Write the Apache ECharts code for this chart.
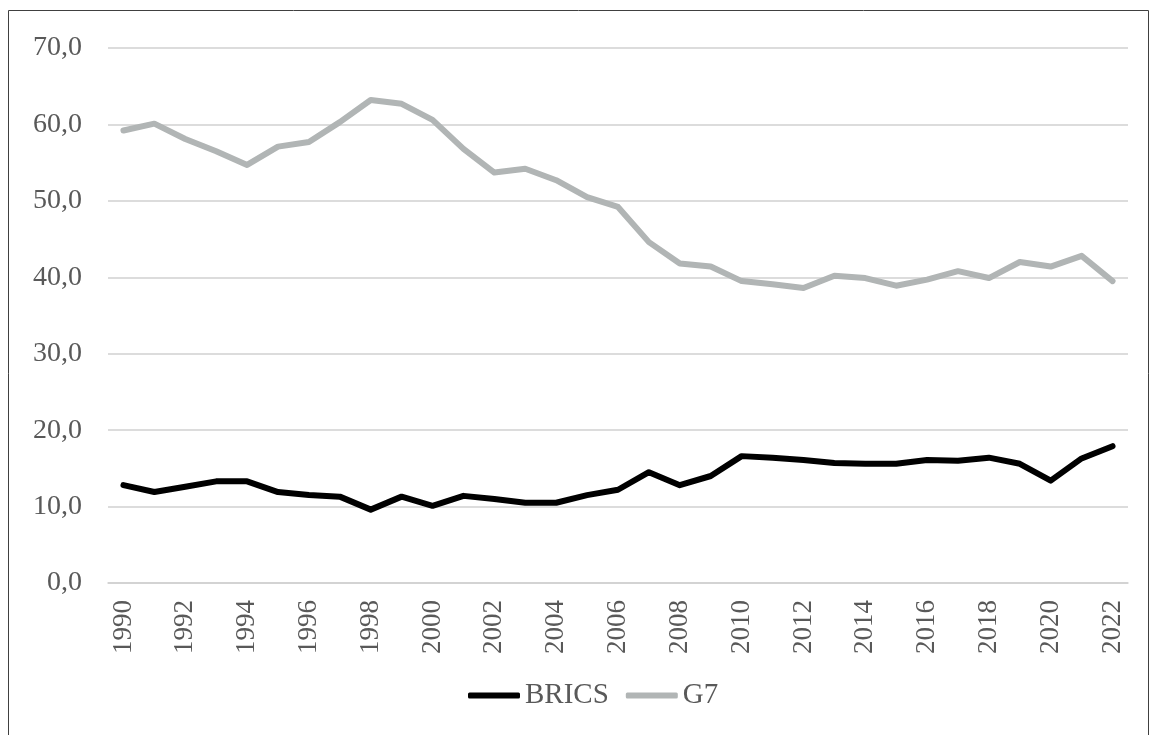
<!DOCTYPE html>
<html>
<head>
<meta charset="utf-8">
<script src="https://cdn.jsdelivr.net/npm/echarts@6/dist/echarts.min.js"></script>
<style>
  html, body { margin: 0; padding: 0; background: #fff; }
  #chart { width: 1150px; height: 735px; }
</style>
</head>
<body>
<div id="chart"></div>
<script>
// years on the x axis
const years = ['1990','1991','1992','1993','1994','1995','1996','1997','1998','1999',
  '2000','2001','2002','2003','2004','2005','2006','2007','2008','2009',
  '2010','2011','2012','2013','2014','2015','2016','2017','2018','2019',
  '2020','2021','2022'];

// BRICS share
const brics = [12.8, 11.9, 12.6, 13.3, 13.3, 11.9, 11.5, 11.3, 9.6, 11.3,
  10.1, 11.4, 11.0, 10.5, 10.5, 11.5, 12.2, 14.5, 12.8, 14.0,
  16.6, 16.4, 16.1, 15.7, 15.6, 15.6, 16.1, 16.0, 16.4, 15.6,
  13.4, 16.3, 17.9];

// G7 share
const g7 = [59.2, 60.1, 58.1, 56.5, 54.7, 57.1, 57.7, 60.3, 63.2, 62.7,
  60.6, 56.8, 53.7, 54.2, 52.7, 50.5, 49.2, 44.6, 41.8, 41.4,
  39.5, 39.1, 38.6, 40.2, 39.9, 38.9, 39.7, 40.8, 39.9, 42.0,
  41.4, 42.8, 39.5];

const font = '"Liberation Serif", "DejaVu Serif", serif';
const textColor = '#595959';

const chart = echarts.init(document.getElementById('chart'));

chart.setOption({
  animation: false,
  textStyle: { fontFamily: font },
  graphic: [{
    type: 'rect',
    shape: { x: 8.5, y: 10.5, width: 1140, height: 730 },
    style: { fill: 'none', stroke: '#404040', lineWidth: 1 },
    silent: true
  }],
  grid: { left: 108, right: 22, top: 48, bottom: 152 },
  legend: {
    bottom: 20,
    left: 463,
    itemWidth: 52,
    itemHeight: 6,
    itemGap: 17,
    textStyle: { fontFamily: font, fontSize: 29, color: textColor },
    data: [
      { name: 'BRICS', icon: 'roundRect' },
      { name: 'G7', icon: 'roundRect' }
    ]
  },
  xAxis: {
    type: 'category',
    boundaryGap: true,
    data: years,
    axisLine: { lineStyle: { color: '#d0d0d0', width: 1.5 } },
    axisTick: { show: false },
    axisLabel: {
      interval: 1,
      rotate: 90,
      margin: 17,
      fontFamily: font,
      fontSize: 27,
      color: textColor
    }
  },
  yAxis: {
    type: 'value',
    min: 0,
    max: 70,
    interval: 10,
    axisLine: { show: false },
    axisTick: { show: false },
    splitLine: { lineStyle: { color: '#d0d0d0', width: 1.5 } },
    axisLabel: {
      margin: 26,
      fontFamily: font,
      fontSize: 28,
      color: textColor,
      formatter: v => v.toFixed(1).replace('.', ',')
    }
  },
  series: [
    {
      name: 'BRICS',
      type: 'line',
      data: brics,
      color: '#000000',
      showSymbol: false,
      lineStyle: { width: 6, color: '#000000', cap: 'round', join: 'round' }
    },
    {
      name: 'G7',
      type: 'line',
      data: g7,
      color: '#b1b5b5',
      showSymbol: false,
      lineStyle: { width: 6, color: '#b1b5b5', cap: 'round', join: 'round' }
    }
  ]
});
</script>
</body>
</html>
